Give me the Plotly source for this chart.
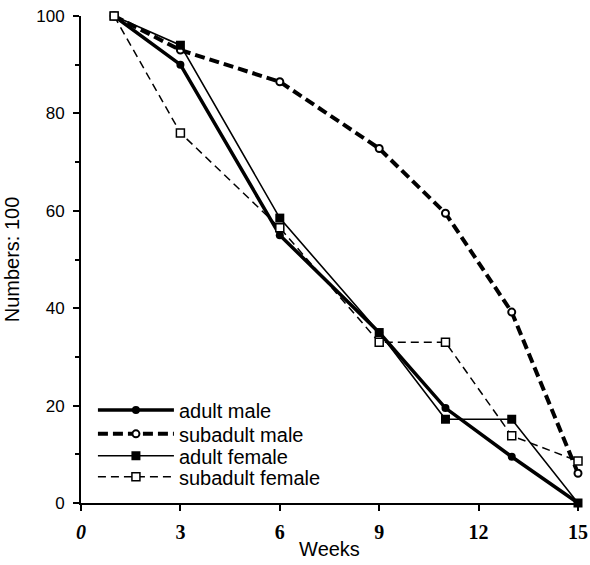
import plotly.graph_objects as go

weeks = [1, 3, 6, 9, 11, 13, 15]
adult_male = [100, 90, 55, 35, 19.5, 9.5, 0]
subadult_male = [100, 93, 86.5, 72.8, 59.5, 39.2, 6.1]
adult_female = [100, 94, 58.5, 35, 17.2, 17.2, 0]
subadult_female = [100, 76, 56.5, 33, 33, 13.8, 8.6]

x_ticks = [0, 3, 6, 9, 12, 15]
x_ticktext = ["<b><i>0</i></b>", "<b>3</b>", "<b>6</b>", "<b>9</b>", "<b>12</b>", "<b>15</b>"]
y_ticks = [0, 20, 40, 60, 80, 100]
y_minor = [10, 30, 50, 70, 90]

SANS = "Liberation Sans, Arial, sans-serif"
SERIF = "Liberation Serif, Times New Roman, serif"

fig = go.Figure()
fig.add_trace(go.Scatter(x=weeks, y=adult_male, name="adult male", mode="lines+markers", legend="legend",
                         line=dict(color="black", width=3.5),
                         marker=dict(symbol="circle", size=8, color="black"), cliponaxis=False))
fig.add_trace(go.Scatter(x=weeks, y=subadult_male, name="subadult male", mode="lines+markers", legend="legend2",
                         line=dict(color="black", width=4, dash="10px,5px"),
                         marker=dict(symbol="circle", size=7, color="white", line=dict(color="black", width=2)),
                         cliponaxis=False))
fig.add_trace(go.Scatter(x=weeks, y=adult_female, name="adult female", mode="lines+markers", legend="legend3",
                         line=dict(color="black", width=1.6),
                         marker=dict(symbol="square", size=9, color="black"), cliponaxis=False))
fig.add_trace(go.Scatter(x=weeks, y=subadult_female, name="subadult female", mode="lines+markers", legend="legend4",
                         line=dict(color="black", width=1.5, dash="8px,5px"),
                         marker=dict(symbol="square", size=8, color="white", line=dict(color="black", width=1.5)),
                         cliponaxis=False))

leg_common = dict(x=0.024, xanchor="left", yanchor="middle", itemwidth=76,
                  font=dict(size=20, family=SANS, color="black"), bgcolor="rgba(0,0,0,0)")
fig.update_layout(
    width=590, height=565,
    margin=dict(l=81, r=12, t=16, b=62),
    paper_bgcolor="white", plot_bgcolor="white",
    font=dict(family=SANS, color="black", size=17),
    legend=dict(y=0.191, **leg_common),
    legend2=dict(y=0.142, **leg_common),
    legend3=dict(y=0.097, **leg_common),
    legend4=dict(y=0.054, **leg_common),
    showlegend=True,
)
fig.update_xaxes(range=[0, 15], tickmode="array", tickvals=x_ticks, ticktext=x_ticktext,
                 tickfont=dict(family=SERIF, size=20), ticklabelstandoff=4,
                 ticks="outside", ticklen=6, tickwidth=2, tickcolor="black",
                 showline=True, linecolor="black", linewidth=2, showgrid=False, zeroline=False,
                 automargin=False,
                 title=dict(text="Weeks", font=dict(size=20, family=SANS), standoff=0))
fig.update_yaxes(range=[0, 100], tickmode="array", tickvals=y_ticks,
                 tickfont=dict(size=17, family=SANS), ticklabelstandoff=5,
                 ticks="outside", ticklen=6, tickwidth=2, tickcolor="black",
                 minor=dict(tickvals=y_minor, ticks="outside", ticklen=4, tickwidth=1.5, tickcolor="black"),
                 showline=True, linecolor="black", linewidth=2, showgrid=False, zeroline=False,
                 automargin=False,
                 title=dict(text="Numbers: 100", font=dict(size=20, family=SANS), standoff=11))

fig.write_html("out.html", config={"displayModeBar": False},
               post_script="document.body.style.margin='0px';")
